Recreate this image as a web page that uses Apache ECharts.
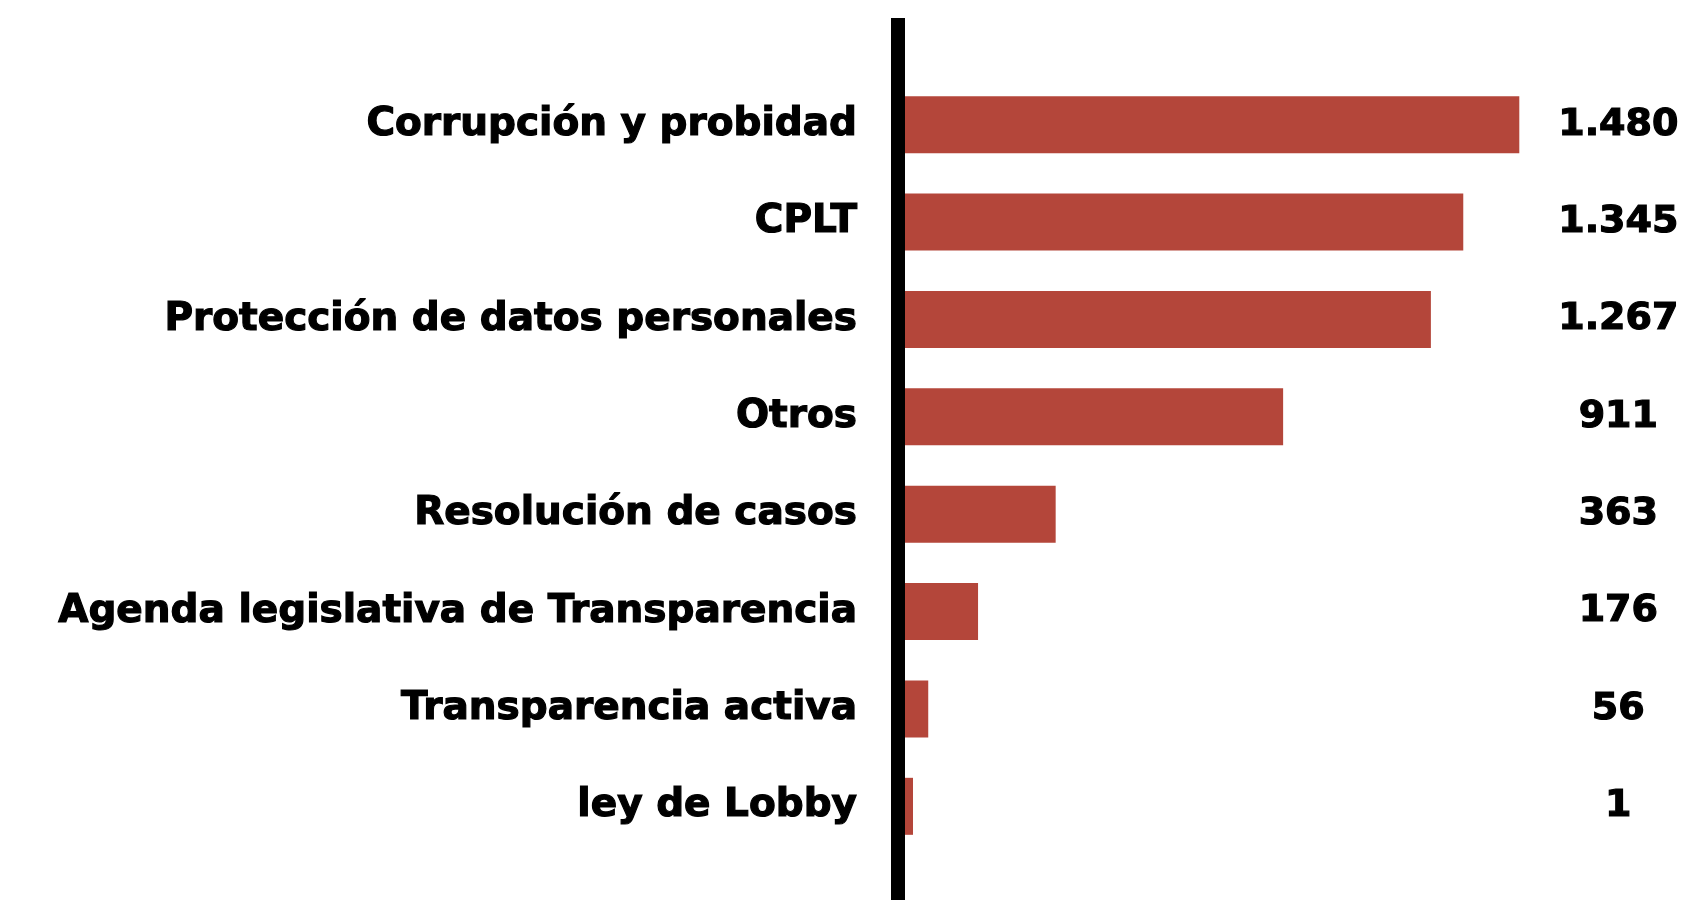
<!DOCTYPE html>
<html>
<head>
<meta charset="utf-8">
<script src="https://cdn.jsdelivr.net/npm/echarts@6/dist/echarts.min.js"></script>
<style>
  html, body { margin: 0; padding: 0; background: #fff; }
  #chart { width: 1682px; height: 900px; }
</style>
</head>
<body>
<div id="chart"></div>
<script>
const categories = [
  'Corrupción y probidad',
  'CPLT',
  'Protección de datos personales',
  'Otros',
  'Resolución de casos',
  'Agenda legislativa de Transparencia',
  'Transparencia activa',
  'ley de Lobby'
];
const values = [1480, 1345, 1267, 911, 363, 176, 56, 1];

// 1480 -> "1.480"
function fmt(v) {
  return String(v).replace(/\B(?=(\d{3})+(?!\d))/g, '.');
}

let myChart = echarts.init(document.getElementById('chart'));

myChart.setOption({
  backgroundColor: '#fff',
  animation: false,
  grid: {
    left: 905,
    right: 161,
    top: 76,
    bottom: 45
  },
  xAxis: {
    type: 'value',
    min: 0,
    max: 1480,
    show: false
  },
  yAxis: [
    {
      type: 'category',
      data: categories,
      inverse: true,
      axisLine: { show: false },
      axisTick: { show: false },
      splitLine: { show: false },
      axisLabel: {
        margin: 48,
        color: '#000',
        fontFamily: 'DejaVu Sans',
        fontWeight: 'bold',
        fontSize: 39,
        textBorderColor: '#000',
        textBorderWidth: 1.2
      }
    },
    {
      type: 'category',
      data: categories,
      inverse: true,
      position: 'right',
      axisLine: { show: false },
      axisTick: { show: false },
      splitLine: { show: false },
      axisLabel: {
        margin: 99,
        align: 'center',
        color: '#000',
        fontFamily: 'DejaVu Sans',
        fontWeight: 'bold',
        fontSize: 38,
        textBorderColor: '#000',
        textBorderWidth: 1.2,
        formatter: function (val, idx) {
          return fmt(values[idx]);
        }
      }
    }
  ],
  // thick black separator line
  graphic: [
    {
      type: 'rect',
      left: 891,
      top: 18,
      shape: { width: 14, height: 882 },
      style: { fill: '#000' }
    }
  ],
  series: [
    {
      type: 'bar',
      data: values,
      barWidth: 57,
      barMinHeight: 8,
      itemStyle: { color: '#b4463a' },
      label: { show: false }
    }
  ]
});
</script>
</body>
</html>
